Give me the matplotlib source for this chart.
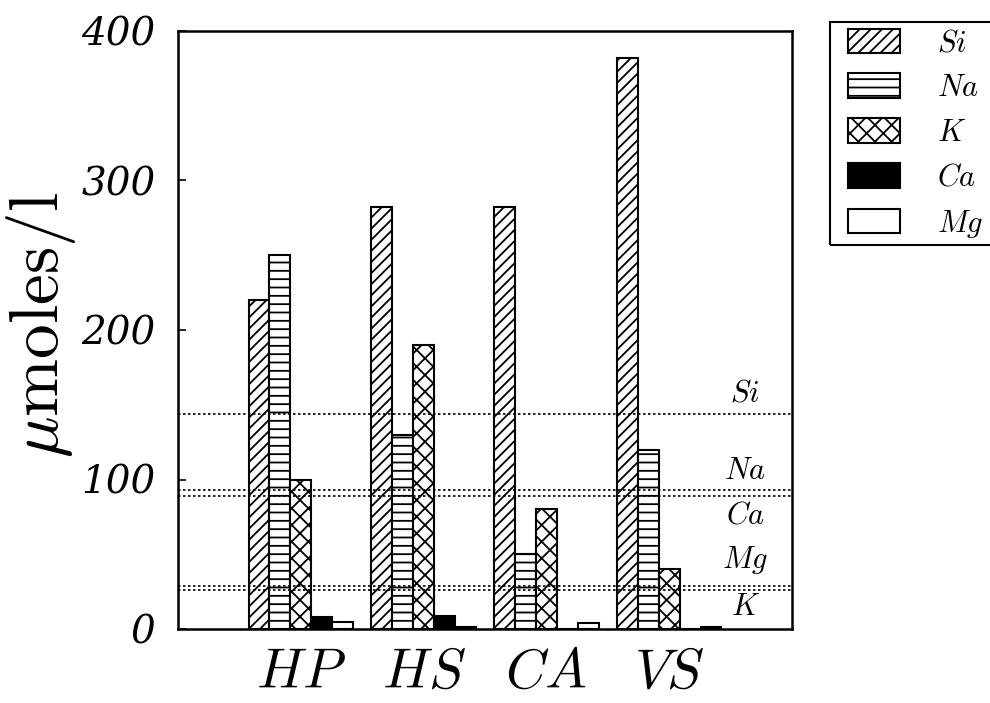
import matplotlib
matplotlib.use("Agg")
import matplotlib.pyplot as plt
from matplotlib.patches import Rectangle
import numpy as np

plt.rcParams['mathtext.fontset'] = 'cm'
plt.rcParams['hatch.linewidth'] = 1.3

sites = ['HP', 'HS', 'CA', 'VS']
elements = ['Si', 'Na', 'K', 'Ca', 'Mg']
si = [220, 282, 282, 382]
na = [250, 130, 50, 120]
k = [100, 190, 80, 40]
ca = [8, 9, 0, 0]
mg = [5, 1.5, 4, 1.5]
series = [si, na, k, ca, mg]

ref_names = ['Si', 'Na', 'Ca', 'Mg', 'K']
ref_values = [144, 93, 89, 29, 26]
ref_label_y = [158, 106, 76, 46, 15]

yticks = [0, 100, 200, 300, 400]

hatches = ['///', '--', 'xx', '', '']
faces = ['white', 'white', 'white', 'black', 'white']

fig = plt.figure(figsize=(9.9, 7.03), dpi=100)
ax = fig.add_axes([178/990, 1 - 629/703, 614/990, 598/703])

x = np.arange(1, len(sites) + 1)
w = 0.17
handles = []
for i, (vals, h, fc, name) in enumerate(zip(series, hatches, faces, elements)):
    b = ax.bar(x + (i - 2) * w, vals, width=w, facecolor=fc, edgecolor='black',
               hatch=h, linewidth=1.5, label=f'${name}$')
    handles.append(b)

for name, v, ly in zip(ref_names, ref_values, ref_label_y):
    ax.axhline(v, color='black', linestyle=(0, (1.5, 1.5)), linewidth=1.2)
    ax.text(4.62, ly, f'${name}$', fontsize=22, ha='center', va='center')

ax.set_xlim(0, 5)
ax.set_ylim(0, 400)
ax.set_xticks(x)
ax.set_xticklabels([f'${s}$' for s in sites], fontsize=40)
ax.tick_params(axis='x', length=0, pad=12)
ax.set_yticks(yticks)
ax.set_yticklabels([str(t) for t in yticks], fontsize=28,
                   family='DejaVu Serif', style='italic')
ax.tick_params(axis='y', direction='in', length=6, width=1.2, pad=16)
for sp in ax.spines.values():
    sp.set_linewidth(1.8)

ax.set_ylabel(r'$\mu\mathrm{moles/l}$', fontsize=50)
ax.yaxis.set_label_coords(-0.163, 0.508)

leg = fig.legend(handles=handles, loc='upper left',
                 bbox_to_anchor=(830/990, 1 - 10/703), fontsize=22,
                 frameon=False,
                 handlelength=1.7, handleheight=0.85, labelspacing=0.52,
                 handletextpad=1.2, borderpad=0.6, borderaxespad=0)
fig.patches.append(Rectangle((830/990, 1 - 245/703), 175/990, 223/703,
                             transform=fig.transFigure, fill=False,
                             edgecolor='black', linewidth=1.5))

fig.savefig('out.png', dpi=100)
